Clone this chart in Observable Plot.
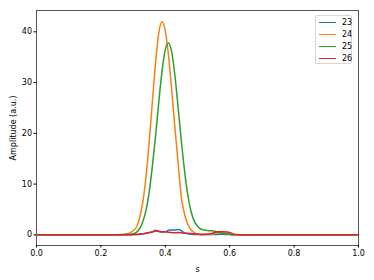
<!DOCTYPE html>
<html><head><meta charset="utf-8">
<script src="https://cdn.jsdelivr.net/npm/d3@7"></script>
<script src="https://cdn.jsdelivr.net/npm/@observablehq/plot@0.6"></script>
<style>
html,body{margin:0;padding:0;background:#fff;}
#wrap{position:relative;width:374px;height:280px;font-family:"DejaVu Sans",sans-serif;}
.legend{position:absolute;left:315px;top:15px;width:37px;height:49px;box-sizing:border-box;border:1px solid #d5d5d5;border-radius:2px;background:rgba(255,255,255,0.85);font-size:8px;color:#000;}
.legend .row{position:absolute;left:3px;height:12px;display:flex;align-items:center;}
.legend .sw{width:17px;height:0;border-top:1.5px solid;margin-right:6px;}
</style></head>
<body><div id="wrap"></div>
<script>
const s = [0, 0.2, 0.25, 0.27, 0.28, 0.29, 0.30, 0.31, 0.32, 0.33, 0.34, 0.35, 0.36, 0.37, 0.38, 0.39, 0.40, 0.41, 0.42, 0.43, 0.44, 0.45, 0.46, 0.47, 0.48, 0.49, 0.50, 0.51, 0.52, 0.53, 0.54, 0.55, 0.56, 0.57, 0.58, 0.59, 0.60, 0.61, 0.62, 0.65, 0.70, 1.0];
const series = ["23", "24", "25", "26"];
const colors = ["#1f77b4", "#ff7f0e", "#2ca02c", "#d62728"];
const amp23 = [0, 0, 0, 0, 0.02, 0.03, 0.05, 0.08, 0.12, 0.2, 0.3, 0.45, 0.6, 0.9, 0.7, 0.6, 0.6, 0.9, 0.95, 0.95, 1.05, 0.8, 0.4, 0.2, 0.1, 0.06, 0.05, 0.04, 0.04, 0.05, 0.05, 0.06, 0.08, 0.1, 0.1, 0.08, 0.05, 0.02, 0, 0, 0, 0];
const amp24 = [0, 0, 0.02, 0.1, 0.2, 0.4, 0.8, 1.5, 3.3, 6.4, 11.4, 18.3, 26.3, 34.1, 39.9, 42.0, 40.2, 35.3, 28.5, 21.0, 14.0, 7.4, 4.0, 2.1, 1.0, 0.45, 0.15, 0.08, 0.05, 0.05, 0.08, 0.2, 0.35, 0.4, 0.35, 0.25, 0.12, 0.05, 0, 0, 0, 0];
const amp25 = [0, 0, 0, 0.02, 0.05, 0.1, 0.2, 0.5, 1.2, 2.6, 4.8, 8.4, 13.6, 19.6, 26.3, 32.3, 36.5, 37.8, 36.0, 31.3, 25.0, 18.4, 12.5, 7.8, 4.6, 2.7, 1.7, 1.15, 0.95, 0.85, 0.82, 0.78, 0.55, 0.4, 0.3, 0.2, 0.1, 0.03, 0, 0, 0, 0];
const amp26 = [0, 0, 0, 0, 0.02, 0.03, 0.05, 0.08, 0.15, 0.22, 0.3, 0.42, 0.55, 0.75, 0.65, 0.55, 0.6, 0.5, 0.45, 0.4, 0.45, 0.4, 0.3, 0.3, 0.25, 0.2, 0.15, 0.12, 0.1, 0.12, 0.2, 0.4, 0.6, 0.6, 0.6, 0.55, 0.45, 0.2, 0.05, 0, 0, 0];
const xTicks = [0, 0.2, 0.4, 0.6, 0.8, 1.0];
const yTicks = [0, 10, 20, 30, 40];

const amps = [amp23, amp24, amp25, amp26];
const data = series.flatMap((k, j) => s.map((v, i) => ({s: v, a: amps[j][i], k})));

const chart = Plot.plot({
  width: 374, height: 280,
  marginLeft: 36, marginRight: 16, marginTop: 10, marginBottom: 35,
  style: {fontFamily: "'DejaVu Sans', sans-serif", fontSize: "8px", color: "#000", background: "#fff"},
  x: {domain: [0, 1]},
  y: {domain: [-2.1, 44.2]},
  color: {domain: series, range: colors},
  marks: [
    Plot.line(data, {x: "s", y: "a", z: "k", stroke: "k", strokeWidth: 1.5, curve: "monotone-x"}),
    Plot.frame({stroke: "#555", strokeWidth: 1}),
    Plot.axisX({ticks: xTicks, tickFormat: d3.format(".1f"), tickSize: 2.5, tickPadding: 2, label: "s", labelAnchor: "center", labelArrow: "none", labelOffset: 26}),
    Plot.axisY({ticks: yTicks, tickFormat: d3.format("d"), tickSize: 2.5, tickPadding: 2, label: "Amplitude (a.u.)", labelAnchor: "center", labelArrow: "none", labelOffset: 26})
  ]
});
const wrap = document.getElementById("wrap");
wrap.appendChild(chart);
const leg = document.createElement("div");
leg.className = "legend";
series.forEach((k, j) => {
  const row = document.createElement("div");
  row.className = "row";
  row.style.top = (j * 12 + 0.5) + "px";
  const sw = document.createElement("span");
  sw.className = "sw";
  sw.style.borderTopColor = colors[j];
  const t = document.createElement("span");
  t.textContent = k;
  row.appendChild(sw); row.appendChild(t);
  leg.appendChild(row);
});
wrap.appendChild(leg);
</script>
</body></html>
